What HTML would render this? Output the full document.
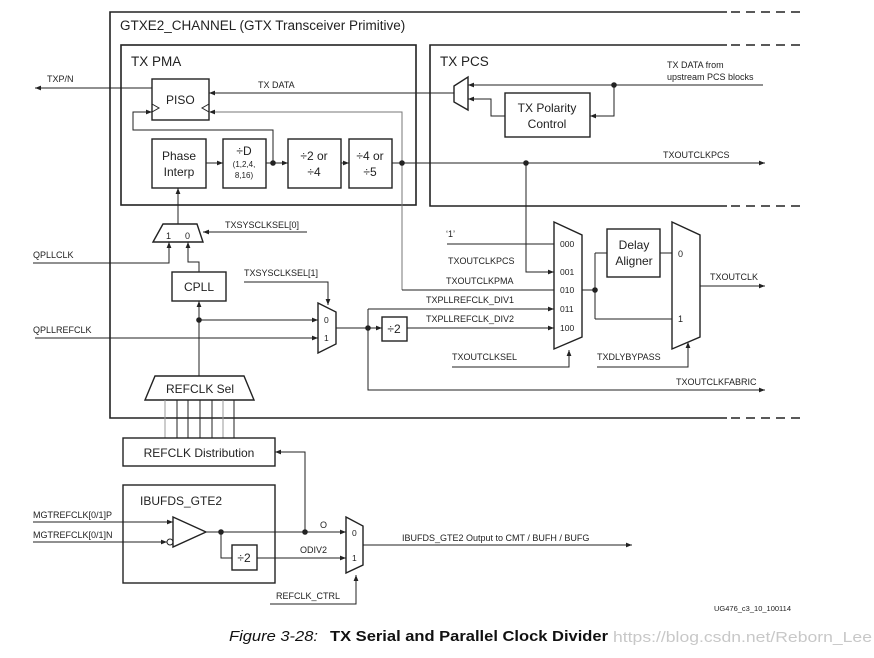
<!DOCTYPE html>
<html><head><meta charset="utf-8"><style>
html,body{margin:0;padding:0;background:#fff;}
svg{display:block;font-family:"Liberation Sans",Arial,sans-serif;}
.s{font-size:9px;fill:#222}
.m{font-size:12px;fill:#222}
</style></head><body>
<svg width="874" height="658" viewBox="0 0 874 658" xmlns="http://www.w3.org/2000/svg">
<defs>
<marker id="a" viewBox="0 0 10 10" refX="10" refY="5" markerWidth="8" markerHeight="6" orient="auto" markerUnits="userSpaceOnUse"><path d="M0,1 L10,5 L0,9z" fill="#222"/></marker>
</defs>
<g fill="none" stroke="#222" stroke-width="1">
<path d="M727,12 H110 V418 H727" stroke-width="1.6"/>
<path d="M731,12 H802 M731,418 H802" stroke-width="1.6" stroke-dasharray="9,6"/>
<rect x="121" y="45" width="295" height="160" stroke-width="1.6"/>
<path d="M727,45 H430 V206 H727" stroke-width="1.6"/>
<path d="M731,45 H802 M731,206 H802" stroke-width="1.6" stroke-dasharray="9,6"/>
<rect x="152" y="79" width="57" height="41" stroke-width="1.4"/>
<path d="M152,104 L159,108 L152,112 M209,104 L202,108 L209,112"/>
<rect x="152" y="139" width="54" height="49" stroke-width="1.4"/>
<rect x="223" y="139" width="43" height="49" stroke-width="1.4"/>
<rect x="288" y="139" width="53" height="49" stroke-width="1.4"/>
<rect x="349" y="139" width="43" height="49" stroke-width="1.4"/>
<path d="M206,163 H223" marker-end="url(#a)"/>
<path d="M266,163 H288" marker-end="url(#a)"/>
<path d="M341,163 H349" marker-end="url(#a)"/>
<path d="M152,88 H35" marker-end="url(#a)"/>
<path d="M454,93 H209" marker-end="url(#a)"/>
<path d="M273,163 V130 H133 V112 H152" marker-end="url(#a)"/>
<path d="M402,290 V112 H209" stroke="#777" marker-end="url(#a)"/>
<path d="M392,163 H765" marker-end="url(#a)"/>
<path d="M454,86 L468,77 V110 L454,102 Z" stroke-width="1.4"/>
<rect x="505" y="93" width="85" height="44" stroke-width="1.4"/>
<path d="M763,85 H468" marker-end="url(#a)"/>
<path d="M614,85 V116 H590" marker-end="url(#a)"/>
<path d="M505,116 H491 V99 H468" marker-end="url(#a)"/>
<path d="M554,222 L582,235 V337 L554,349 Z" stroke-width="1.4"/>
<path d="M526,163 V272 H554" marker-end="url(#a)"/>
<path d="M447,244 H554"/>
<path d="M402,290 H554"/>
<path d="M368,309 H554" marker-end="url(#a)"/>
<path d="M407,328 H554" marker-end="url(#a)"/>
<path d="M452,367 H569 V350" marker-end="url(#a)"/>
<rect x="607" y="229" width="53" height="48" stroke-width="1.4"/>
<path d="M582,290 H595 M595,253 V319 M595,253 H607 M595,319 H672 M660,253 H672"/>
<path d="M672,222 L700,235 V337 L672,349 Z" stroke-width="1.4"/>
<path d="M700,286 H765" marker-end="url(#a)"/>
<path d="M597,367 H688 V342" marker-end="url(#a)"/>
<path d="M368,309 V390 H765" marker-end="url(#a)"/>
<rect x="382" y="317" width="25" height="24" stroke-width="1.4"/>
<path d="M336,328 H382" marker-end="url(#a)"/>
<path d="M153,242 L163,224 H197 L203,242 Z" stroke-width="1.4"/>
<path d="M178,224 V188" marker-end="url(#a)"/>
<path d="M307,232 H203" marker-end="url(#a)"/>
<path d="M33,263 H169 V242" marker-end="url(#a)"/>
<rect x="172" y="272" width="54" height="29" stroke-width="1.4"/>
<path d="M199,272 V262 H188 V242" marker-end="url(#a)"/>
<path d="M199,376 V301" marker-end="url(#a)"/>
<path d="M199,320 H318" marker-end="url(#a)"/>
<path d="M35,338 H318" marker-end="url(#a)"/>
<path d="M318,303 L336,312 V344 L318,353 Z" stroke-width="1.4"/>
<path d="M244,282 H328 V305" marker-end="url(#a)"/>
<path d="M145,400 L155,376 H244 L254,400 Z" stroke-width="1.4"/>
<path d="M177,400 V438 M188,400 V438 M200,400 V438 M212,400 V438 M234,400 V438"/>
<path d="M165,400 V438 M223,400 V438" stroke="#999"/>
<rect x="123" y="438" width="152" height="28" stroke-width="1.4"/>
<path d="M305,532 V452 H275" marker-end="url(#a)"/>
<rect x="123" y="485" width="152" height="98" stroke-width="1.4"/>
<path d="M173,517 L206,532 L173,547 Z" stroke-width="1.4"/>
<circle cx="170" cy="542" r="3"/>
<path d="M33,522 H173" marker-end="url(#a)"/>
<path d="M33,542 H167" marker-end="url(#a)"/>
<path d="M206,532 H346" marker-end="url(#a)"/>
<path d="M221,532 V558 H232"/>
<rect x="232" y="545" width="25" height="25" stroke-width="1.4"/>
<path d="M257,558 H346" marker-end="url(#a)"/>
<path d="M346,517 L363,526 V565 L346,573 Z" stroke-width="1.4"/>
<path d="M363,545 H632" marker-end="url(#a)"/>
<path d="M270,604 H356 V575" marker-end="url(#a)"/>
</g>
<g fill="#222">
<circle cx="273" cy="163" r="2.8"/><circle cx="402" cy="163" r="2.8"/><circle cx="614" cy="85" r="2.8"/>
<circle cx="526" cy="163" r="2.8"/><circle cx="595" cy="290" r="2.8"/><circle cx="368" cy="328" r="2.8"/>
<circle cx="199" cy="320" r="2.8"/><circle cx="221" cy="532" r="2.8"/><circle cx="305" cy="532" r="2.8"/>
</g>
<text x="120" y="30" style="font-size:13.5px" fill="#222">GTXE2_CHANNEL (GTX Transceiver Primitive)</text>
<text x="131" y="66" class="m" style="font-size:13.5px">TX PMA</text>
<text x="440" y="66" class="m" style="font-size:13.5px">TX PCS</text>
<text x="166" y="104" class="m">PISO</text>
<text x="179" y="160" class="m" text-anchor="middle">Phase</text>
<text x="179" y="176" class="m" text-anchor="middle">Interp</text>
<text x="244" y="155" class="m" text-anchor="middle">÷D</text>
<text x="244" y="167" class="s" text-anchor="middle" style="font-size:8px">(1,2,4,</text>
<text x="244" y="178" class="s" text-anchor="middle" style="font-size:8px">8,16)</text>
<text x="314" y="160" class="m" text-anchor="middle">÷2 or</text>
<text x="314" y="176" class="m" text-anchor="middle">÷4</text>
<text x="370" y="160" class="m" text-anchor="middle">÷4 or</text>
<text x="370" y="176" class="m" text-anchor="middle">÷5</text>
<text x="258" y="88" class="s">TX DATA</text>
<text x="47" y="82" class="s">TXP/N</text>
<text x="547" y="112" class="m" text-anchor="middle">TX Polarity</text>
<text x="547" y="128" class="m" text-anchor="middle">Control</text>
<text x="667" y="68" class="s">TX DATA from</text>
<text x="667" y="80" class="s">upstream PCS blocks</text>
<text x="663" y="158" class="s">TXOUTCLKPCS</text>
<text x="446" y="237" class="s">‘1’</text>
<text x="448" y="264" class="s">TXOUTCLKPCS</text>
<text x="446" y="284" class="s">TXOUTCLKPMA</text>
<text x="426" y="303" class="s">TXPLLREFCLK_DIV1</text>
<text x="426" y="322" class="s">TXPLLREFCLK_DIV2</text>
<g class="s" style="font-size:8.5px"><text x="560" y="247">000</text><text x="560" y="275">001</text><text x="560" y="293">010</text><text x="560" y="312">011</text><text x="560" y="331">100</text></g>
<text x="452" y="360" class="s">TXOUTCLKSEL</text>
<text x="634" y="249" class="m" text-anchor="middle">Delay</text>
<text x="634" y="265" class="m" text-anchor="middle">Aligner</text>
<text x="678" y="257" class="s">0</text><text x="678" y="322" class="s">1</text>
<text x="710" y="280" class="s">TXOUTCLK</text>
<text x="597" y="360" class="s">TXDLYBYPASS</text>
<text x="676" y="385" class="s">TXOUTCLKFABRIC</text>
<text x="394" y="333" class="m" text-anchor="middle">÷2</text>
<text x="166" y="239" class="s">1</text><text x="185" y="239" class="s">0</text>
<text x="225" y="228" class="s">TXSYSCLKSEL[0]</text>
<text x="33" y="258" class="s">QPLLCLK</text>
<text x="199" y="291" class="m" text-anchor="middle">CPLL</text>
<text x="244" y="276" class="s">TXSYSCLKSEL[1]</text>
<text x="33" y="333" class="s">QPLLREFCLK</text>
<text x="324" y="323" class="s" style="font-size:8.5px">0</text><text x="324" y="341" class="s" style="font-size:8.5px">1</text>
<text x="200" y="393" class="m" text-anchor="middle">REFCLK Sel</text>
<text x="199" y="457" class="m" text-anchor="middle">REFCLK Distribution</text>
<text x="140" y="505" class="m">IBUFDS_GTE2</text>
<text x="33" y="518" class="s">MGTREFCLK[0/1]P</text>
<text x="33" y="538" class="s">MGTREFCLK[0/1]N</text>
<text x="244" y="562" class="m" text-anchor="middle">÷2</text>
<text x="320" y="528" class="s">O</text>
<text x="300" y="553" class="s">ODIV2</text>
<text x="352" y="536" class="s" style="font-size:8.5px">0</text><text x="352" y="561" class="s" style="font-size:8.5px">1</text>
<text x="276" y="599" class="s">REFCLK_CTRL</text>
<text x="402" y="541" class="s">IBUFDS_GTE2   Output to CMT / BUFH / BUFG</text>
<text x="714" y="611" class="s" style="font-size:7.5px">UG476_c3_10_100114</text>
<text x="229" y="641" style="font-size:15px;font-style:italic" fill="#111" textLength="89" lengthAdjust="spacingAndGlyphs">Figure 3-28:</text>
<text x="330" y="641" style="font-size:15px;font-weight:bold" fill="#111" textLength="278" lengthAdjust="spacingAndGlyphs">TX Serial and Parallel Clock Divider</text>
<text x="613" y="642" style="font-size:15px" fill="#c8c8c8" textLength="259" lengthAdjust="spacingAndGlyphs">https://blog.csdn.net/Reborn_Lee</text>
</svg>
</body></html>
